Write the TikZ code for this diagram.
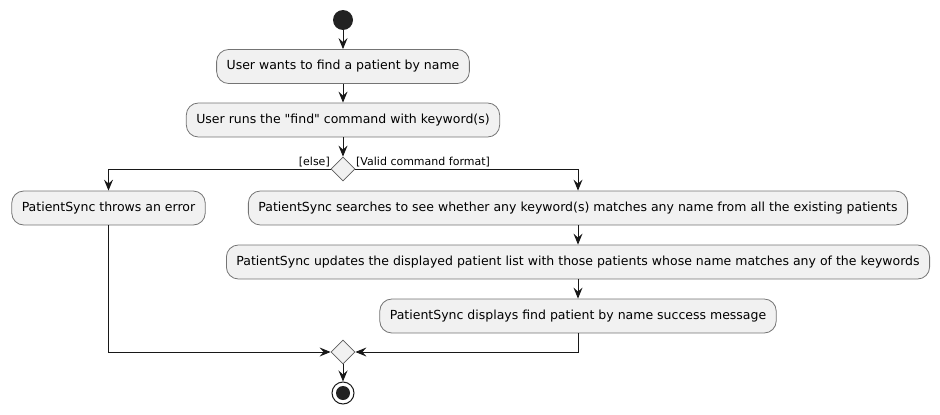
\documentclass[tikz,border=0pt]{standalone}
\usepackage{fontspec}
\setmainfont{DejaVu Sans}[Ligatures=TeXOff]
\usetikzlibrary{arrows.meta,shapes.geometric}
\definecolor{boxfill}{HTML}{F1F1F1}
\definecolor{ink}{HTML}{181818}
\definecolor{dot}{HTML}{222222}
\tikzset{
  act/.style={draw=ink!60, fill=boxfill, rounded corners=12pt, minimum height=34pt,
    inner xsep=10pt, font=\fontsize{12.5}{14}\selectfont, line width=0.8pt},
  decide/.style={diamond, draw=ink!70, fill=boxfill, minimum size=24pt, inner sep=0pt, line width=0.8pt},
  flow/.style={draw=ink, line width=1pt, -{Stealth[length=11pt,width=9pt,inset=4pt]}},
  guard/.style={font=\fontsize{11}{12}\selectfont, inner sep=1pt}
}
\begin{document}
\begin{tikzpicture}[x=1pt,y=-1pt]
\useasboundingbox (0,0) rectangle (940,415);
\node[circle, fill=dot, minimum size=20pt, inner sep=0pt] (start) at (343,20) {};
\node[act] (b1) at (343,66.5) {User wants to find a patient by name};
\node[act] (b2) at (343,120) {User runs the "find" command with keyword(s)};
\node[decide] (d1) at (343,169) {};
\node[act] (err) at (108.5,208) {PatientSync throws an error};
\node[act] (r1) at (578,208) {PatientSync searches to see whether any keyword(s) matches any name from all the existing patients};
\node[act] (r2) at (578,262) {PatientSync updates the displayed patient list with those patients whose name matches any of the keywords};
\node[act] (r3) at (578,316) {PatientSync displays find patient by name success message};
\node[decide] (d2) at (343,352) {};
\node[circle, draw=ink, fill=white, minimum size=22pt, inner sep=0pt, line width=1pt] (stop) at (343,393) {};
\node[circle, fill=dot, minimum size=14pt, inner sep=0pt] at (stop) {};
\node[guard, anchor=south east] (ge) at (331,168) {[else]};
\node[guard, anchor=south west] (gv) at (355,168) {[Valid command format]};
\draw[flow] (start) -- (b1);
\draw[flow] (b1) -- (b2);
\draw[flow] (b2) -- (d1);
\draw[flow] (d1.west) -| (err.north);
\draw[flow] (d1.east) -| (r1.north);
\draw[flow] (r1) -- (r2);
\draw[flow] (r2) -- (r3);
\draw[flow] (err.south) |- (d2.west);
\draw[flow] (r3.south) |- (d2.east);
\draw[flow] (d2) -- (stop);
\end{tikzpicture}
\end{document}
